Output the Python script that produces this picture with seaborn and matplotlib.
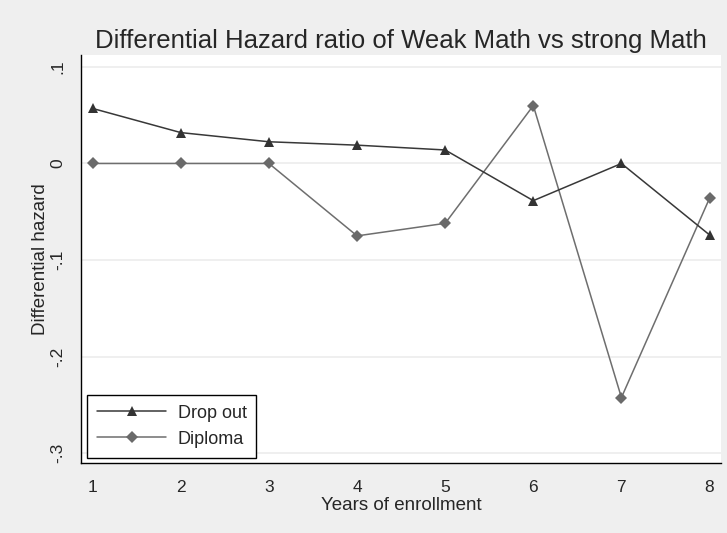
import matplotlib
matplotlib.use("Agg")
import matplotlib.pyplot as plt
import seaborn as sns
import pandas as pd
from matplotlib.lines import Line2D

years = [1, 2, 3, 4, 5, 6, 7, 8]
drop_out = [0.057, 0.032, 0.0225, 0.019, 0.014, -0.0385, 0.0, -0.074]
diploma = [0.0, 0.0, 0.0, -0.075, -0.062, 0.060, -0.2425, -0.036]
yticks = [0.1, 0.0, -0.1, -0.2, -0.3]
ytick_labels = [".1", "0", "-.1", "-.2", "-.3"]
title = "Differential Hazard ratio of Weak Math vs strong Math"

sns.set_theme(style="white")
plt.rcParams['font.family'] = ['Liberation Sans', 'DejaVu Sans']

fig = plt.figure(figsize=(7.27, 5.33), dpi=100)
fig.patch.set_facecolor("#efefef")
ax = fig.add_axes([81/727, 1-463/533, (721-81)/727, (463-55)/533])
ax.set_facecolor("white")

for yv in yticks:
    ax.axhline(yv, color="#ececec", lw=1.2, zorder=0)

c_drop = "#383838"
c_dipl = "#6e6e6e"
tri = dict(marker="^", markersize=7.5, markeredgewidth=0, markerfacecolor="#333333")
dia = dict(marker="D", markersize=5.8, markeredgewidth=0, markerfacecolor="#6a6a6a")
sns.lineplot(x=years, y=drop_out, ax=ax, color=c_drop, lw=1.1, zorder=3, **tri)
sns.lineplot(x=years, y=diploma, ax=ax, color=c_dipl, lw=1.1, zorder=2, **dia)

ax.set_xlim(0.867, 8.13)
ax.set_ylim(-0.3103, 0.1124)
ax.set_xticks(years)
ax.set_xticklabels([str(y) for y in years], fontsize=12.5)
ax.set_yticks(yticks)
ax.set_yticklabels(ytick_labels, fontsize=12.5, rotation=90, va="center")
ax.tick_params(axis="both", direction="out", length=5, width=1, color="black")
ax.tick_params(axis="x", pad=7)
ax.tick_params(axis="y", pad=6.5)

for s in ["top", "right"]:
    ax.spines[s].set_visible(False)
for s in ["left", "bottom"]:
    ax.spines[s].set_color("black")
    ax.spines[s].set_linewidth(1)

ax.set_xlabel("Years of enrollment", fontsize=13.5, labelpad=1.5)
ax.set_ylabel("Differential hazard", fontsize=13.5, labelpad=0.5)
ax.set_title(title, fontsize=18.5, pad=5)

handles = [
    Line2D([], [], color=c_drop, lw=1.1, **tri),
    Line2D([], [], color=c_dipl, lw=1.1, **dia),
]
leg = ax.legend(handles, ["Drop out", "Diploma"], loc="lower left", bbox_to_anchor=(0.0098, 0.013),
                frameon=True, fancybox=False, fontsize=13, handlelength=3.8, borderpad=0.55,
                labelspacing=0.5, handletextpad=0.65, borderaxespad=0)
leg.get_frame().set_edgecolor("black")
leg.get_frame().set_linewidth(1)
leg.get_frame().set_facecolor("white")
leg.get_frame().set_alpha(1)

fig.savefig("out.png", dpi=100, facecolor=fig.get_facecolor())
